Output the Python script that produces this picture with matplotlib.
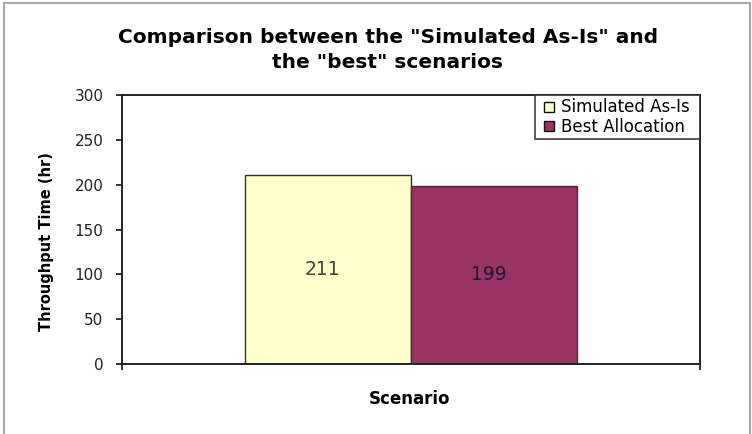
import matplotlib
matplotlib.use("Agg")
import matplotlib.pyplot as plt
from matplotlib.patches import Rectangle
from matplotlib.lines import Line2D

series = ["Simulated As-Is", "Best Allocation"]
values = [211, 199]
colors = ["#FFFFCC", "#993366"]
label_colors = ["#404040", "#1a1a33"]
yticks = [0, 50, 100, 150, 200, 250, 300]

plt.rcParams['font.family'] = ['DejaVu Sans']

fig = plt.figure(figsize=(7.52, 4.34), dpi=100)
ax = fig.add_axes([122/752, 1-364/434, (700-122)/752, (364-95)/434])

w = 0.287
offsets = [-w/2, w/2]
for name, v, c, lc, off in zip(series, values, colors, label_colors, offsets):
    bars = ax.bar(off, v, width=w, color=c, edgecolor="#333333", linewidth=1.0, label=name)
    for b in bars:
        ax.annotate(str(v), xy=(b.get_x() + b.get_width()/2, b.get_height()/2),
                    xytext=(-4, 0), textcoords='offset points',
                    ha='center', va='center', fontsize=13.5, color=lc)

ax.set_xlim(-0.5, 0.5)
ax.set_ylim(0, 300)
ax.set_yticks(yticks)
ax.set_yticklabels([str(t) for t in yticks], fontsize=11, color="#222222")
ax.set_xticks([-0.5, 0.5])
ax.set_xticklabels(["", ""])
ax.tick_params(axis='both', direction='out', length=4.3, width=1.3, color="#222222", pad=9)
for s in ax.spines.values():
    s.set_linewidth(1.4)
    s.set_color("#222222")

ax.set_ylabel("Throughput Time (hr)", fontsize=10.5, fontweight='bold')
ax.yaxis.set_label_coords((54-122)/578, (364-242)/269)
ax.set_xlabel("Scenario", fontsize=12, fontweight='bold')
ax.xaxis.set_label_coords(0.497, (364-390)/269)

fig.text(388/752, 1-50/434, 'Comparison between the "Simulated As-Is" and\nthe "best" scenarios',
         ha='center', va='center', fontsize=14.5, fontweight='bold', linespacing=1.42)

handles = [Line2D([], [], marker='s', linestyle='none', markersize=7,
                  markerfacecolor=c, markeredgecolor="#111111", markeredgewidth=1.0)
           for c in colors]
leg = ax.legend(handles, series, loc='upper left',
                bbox_to_anchor=((535-122)/578, 0, (700-535)/578, 1), mode='expand',
                borderaxespad=0, fontsize=12, frameon=True, fancybox=False,
                edgecolor="#222222", handlelength=1.3, handletextpad=0.05,
                borderpad=0.2, labelspacing=0.1)
leg.get_frame().set_linewidth(1.3)

fig.patches.append(Rectangle((4/752, -0.05), 746/752, 1.05-3/434, transform=fig.transFigure,
                             fill=False, edgecolor="#A8A8A8", linewidth=1.5))

fig.savefig("out.png", dpi=100)
